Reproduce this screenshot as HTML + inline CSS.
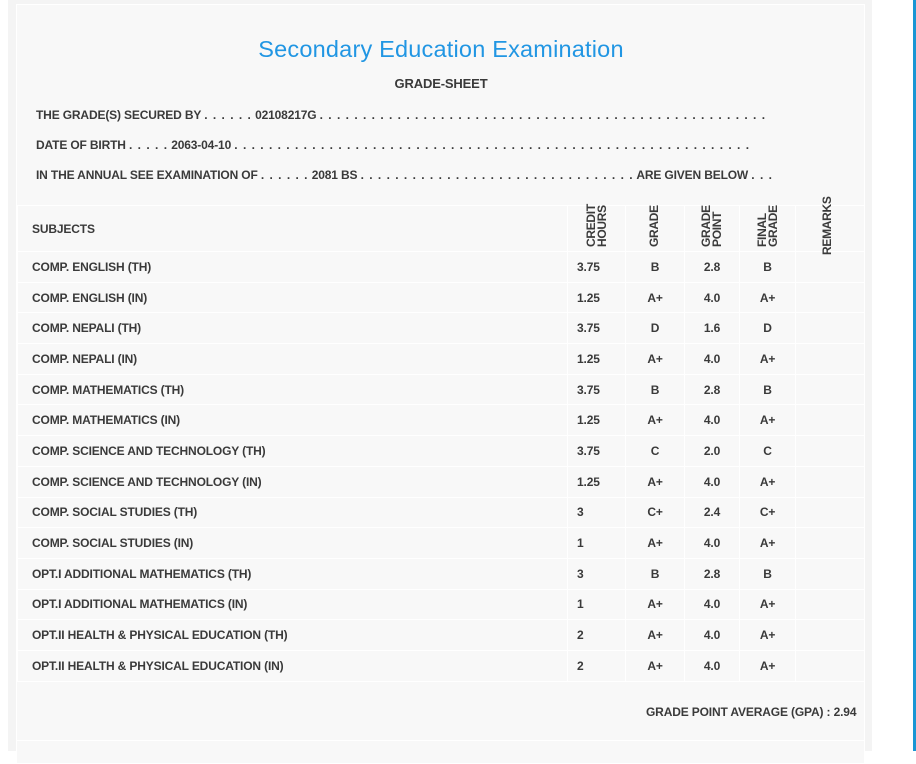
<!DOCTYPE html>
<html><head><meta charset="utf-8">
<style>
*{box-sizing:border-box;margin:0;padding:0}
body{width:916px;height:751px;background:#fff;position:relative;overflow:hidden;font-family:"Liberation Sans",Arial,sans-serif;color:#333}
#outer{position:absolute;left:8px;top:0;width:864px;height:751px;background:#f4f4f4}
#panel{position:absolute;left:16px;top:4px;width:849px;height:760px;background:#f8f8f8;border:1px solid #fff}
#blue{position:absolute;left:913px;top:0;width:3px;height:751px;background:#1a96d4}
.t{position:absolute;white-space:nowrap;font-size:12px;font-weight:bold;letter-spacing:-0.15px;color:#3a3a3a}
.d{letter-spacing:1px}
#title{position:absolute;left:0;width:882px;text-align:center;top:36px;font-size:23.5px;color:#2196e3;font-weight:normal;letter-spacing:0.2px}
table{position:absolute;left:17px;top:205px;border-collapse:collapse}
td{border:1px solid #fff;font-size:12px;font-weight:bold;letter-spacing:-0.15px;height:30.7px;color:#3a3a3a;padding:0}
td.s{width:550px;padding-left:14px}
td.c{width:58px;padding-left:9px}
td.g{width:59px;text-align:center}
td.p{width:55px;text-align:center}
td.f{width:56px;text-align:center}
td.r{width:69px}
tr.h td{height:46px;position:relative}
.rot{position:absolute;left:50%;bottom:4px;transform-origin:left bottom;transform:rotate(-90deg) translateY(100%);font-size:12px;font-weight:bold;letter-spacing:-0.3px;line-height:11px;text-align:left;white-space:nowrap;margin-left:-11px}
#gpa{position:absolute;left:16px;top:681px;width:849px;height:60px;border-bottom:1px solid #fff}
</style></head><body>
<div id="outer"></div>
<div id="panel"></div>
<div id="blue"></div>
<div id="title">Secondary Education Examination</div>
<div class="t" style="left:0;width:882px;text-align:center;top:76px;font-size:13px">GRADE-SHEET</div>
<div class="t" style="left:36px;top:108px">THE GRADE(S) SECURED BY <span class="d">. . . . . .</span> 02108217G <span class="d">. . . . . . . . . . . . . . . . . . . . . . . . . . . . . . . . . . . . . . . . . . . . . . . . . . . .</span></div>
<div class="t" style="left:36px;top:138px">DATE OF BIRTH <span class="d">. . . . .</span> 2063-04-10 <span class="d">. . . . . . . . . . . . . . . . . . . . . . . . . . . . . . . . . . . . . . . . . . . . . . . . . . . . . . . . . . . .</span></div>
<div class="t" style="left:36px;top:168px">IN THE ANNUAL SEE EXAMINATION OF <span class="d">. . . . . .</span> 2081 BS <span class="d">. . . . . . . . . . . . . . . . . . . . . . . . . . . . . . . .</span> ARE GIVEN BELOW <span class="d">. . .</span></div>
<table>
<tr class="h">
<td class="s">SUBJECTS</td>
<td class="c"><div class="rot">CREDIT<br>HOURS</div></td>
<td class="g"><div class="rot" style="margin-left:-6px">GRADE</div></td>
<td class="p"><div class="rot">GRADE<br>POINT</div></td>
<td class="f"><div class="rot">FINAL<br>GRADE</div></td>
<td class="r"><div class="rot" style="bottom:-4px;margin-left:-8px">REMARKS</div></td>
</tr>
<tr><td class="s">COMP. ENGLISH (TH)</td><td class="c">3.75</td><td class="g">B</td><td class="p">2.8</td><td class="f">B</td><td class="r"></td></tr>
<tr><td class="s">COMP. ENGLISH (IN)</td><td class="c">1.25</td><td class="g">A+</td><td class="p">4.0</td><td class="f">A+</td><td class="r"></td></tr>
<tr><td class="s">COMP. NEPALI (TH)</td><td class="c">3.75</td><td class="g">D</td><td class="p">1.6</td><td class="f">D</td><td class="r"></td></tr>
<tr><td class="s">COMP. NEPALI (IN)</td><td class="c">1.25</td><td class="g">A+</td><td class="p">4.0</td><td class="f">A+</td><td class="r"></td></tr>
<tr><td class="s">COMP. MATHEMATICS (TH)</td><td class="c">3.75</td><td class="g">B</td><td class="p">2.8</td><td class="f">B</td><td class="r"></td></tr>
<tr><td class="s">COMP. MATHEMATICS (IN)</td><td class="c">1.25</td><td class="g">A+</td><td class="p">4.0</td><td class="f">A+</td><td class="r"></td></tr>
<tr><td class="s">COMP. SCIENCE AND TECHNOLOGY (TH)</td><td class="c">3.75</td><td class="g">C</td><td class="p">2.0</td><td class="f">C</td><td class="r"></td></tr>
<tr><td class="s">COMP. SCIENCE AND TECHNOLOGY (IN)</td><td class="c">1.25</td><td class="g">A+</td><td class="p">4.0</td><td class="f">A+</td><td class="r"></td></tr>
<tr><td class="s">COMP. SOCIAL STUDIES (TH)</td><td class="c">3</td><td class="g">C+</td><td class="p">2.4</td><td class="f">C+</td><td class="r"></td></tr>
<tr><td class="s">COMP. SOCIAL STUDIES (IN)</td><td class="c">1</td><td class="g">A+</td><td class="p">4.0</td><td class="f">A+</td><td class="r"></td></tr>
<tr><td class="s">OPT.I ADDITIONAL MATHEMATICS (TH)</td><td class="c">3</td><td class="g">B</td><td class="p">2.8</td><td class="f">B</td><td class="r"></td></tr>
<tr><td class="s">OPT.I ADDITIONAL MATHEMATICS (IN)</td><td class="c">1</td><td class="g">A+</td><td class="p">4.0</td><td class="f">A+</td><td class="r"></td></tr>
<tr><td class="s">OPT.II HEALTH &amp; PHYSICAL EDUCATION (TH)</td><td class="c">2</td><td class="g">A+</td><td class="p">4.0</td><td class="f">A+</td><td class="r"></td></tr>
<tr><td class="s">OPT.II HEALTH &amp; PHYSICAL EDUCATION (IN)</td><td class="c">2</td><td class="g">A+</td><td class="p">4.0</td><td class="f">A+</td><td class="r"></td></tr>
</table>
<div id="gpa"></div>
<div class="t" style="left:646px;top:705px">GRADE POINT AVERAGE (GPA) : 2.94</div>
</body></html>
